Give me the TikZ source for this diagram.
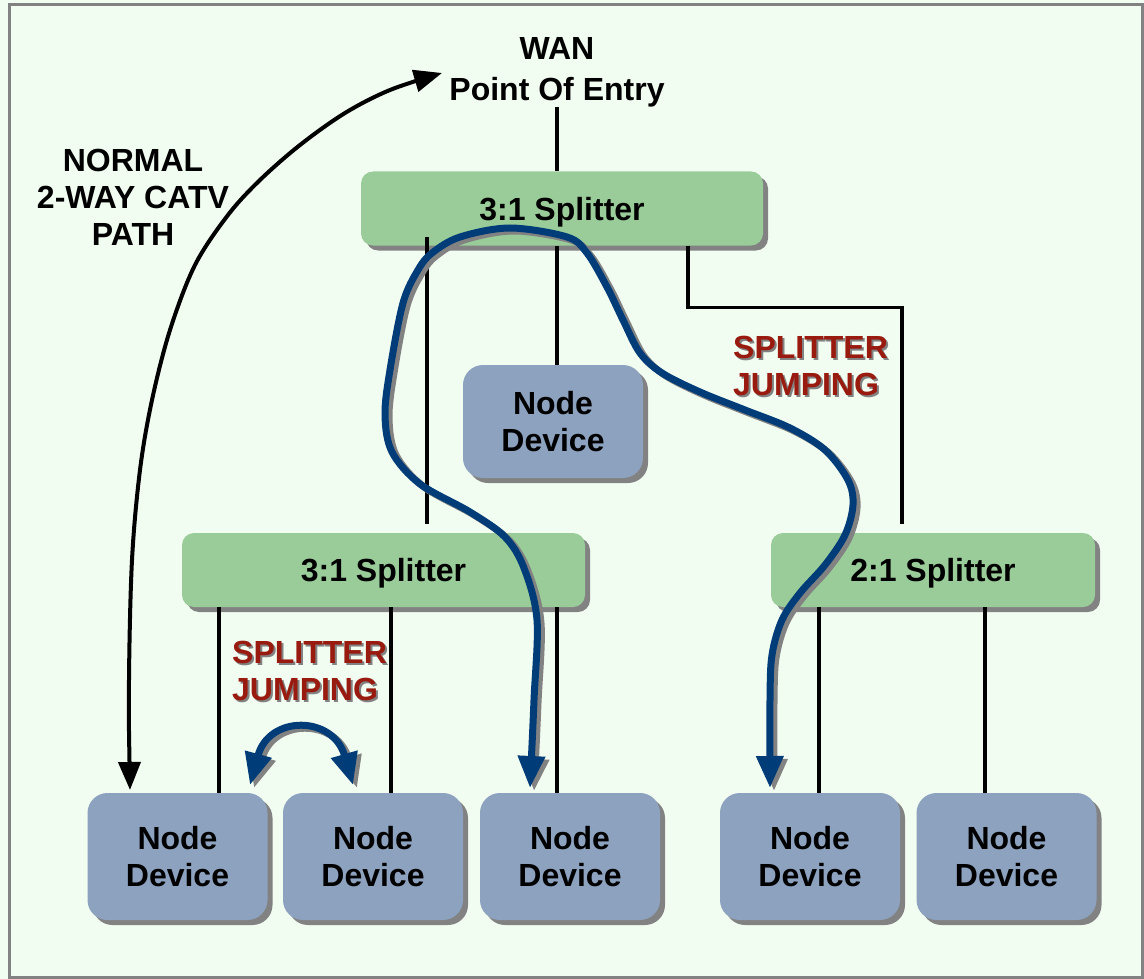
\documentclass[tikz,border=0pt]{standalone}
\usepackage{fontspec}
\setmainfont{Liberation Sans}
\usetikzlibrary{arrows.meta,shadows}
\definecolor{bgmint}{HTML}{F2FDF2}
\definecolor{splitgreen}{HTML}{99CC99}
\definecolor{devblue}{HTML}{8CA2BE}
\definecolor{pathblue}{HTML}{003C78}
\definecolor{jumpred}{HTML}{991A0E}
\definecolor{shadowgray}{HTML}{828282}
\begin{document}
\begin{tikzpicture}[x=1pt,y=-1pt,
  lbl/.style={font=\fontsize{32}{37}\selectfont\bfseries, align=center, inner sep=0pt},
  boxshadow/.style={drop shadow={shadow xshift=5pt,shadow yshift=-5pt,fill=shadowgray,opacity=1}},
  splitbox/.style={lbl, fill=splitgreen, rounded corners=12pt, boxshadow, minimum height=74pt, text depth=0pt},
  devbox/.style={lbl, fill=devblue, rounded corners=20pt, boxshadow, minimum width=180pt},
  wire/.style={line width=3.2pt, black},
  jumppath/.style={line width=7pt, pathblue, {Triangle[length=32pt,width=26pt]}-{Triangle[length=32pt,width=26pt]}},
  jumpshadow/.style={line width=7pt, shadowgray, {Triangle[length=32pt,width=26pt]}-{Triangle[length=32pt,width=26pt]}},
  normalpath/.style={line width=4pt, black, {Triangle[length=28pt,width=22pt]}-{Triangle[length=28pt,width=22pt]}},
  jumplbl/.style={font=\fontsize{32}{37}\selectfont\bfseries, align=left, inner sep=0pt, anchor=north west}
]
\useasboundingbox (0,0) rectangle (1144,979);
\fill[bgmint] (0,0) rectangle (1144,979);
\draw[shadowgray, line width=3pt] (9,5) rectangle (1142,977);

% nodes
\node[lbl, font=\fontsize{32}{41}\selectfont\bfseries] (wan) at (557,72) {WAN\\Point Of Entry};
\node[splitbox, minimum width=402pt] (ts) at (562,208.5) {3:1 Splitter};
\node[devbox, minimum height=113pt] (md) at (553,421.5) {Node\\Device};
\node[splitbox, minimum width=403pt] (ls) at (383.5,570) {3:1 Splitter};
\node[splitbox, minimum width=324pt] (rs) at (933,570) {2:1 Splitter};
\node[devbox, minimum height=127pt] (bd1) at (177.5,856.5) {Node\\Device};
\node[devbox, minimum height=127pt] (bd2) at (373,856.5) {Node\\Device};
\node[devbox, minimum height=127pt] (bd3) at (570,856.5) {Node\\Device};
\node[devbox, minimum height=127pt] (bd4) at (810,856.5) {Node\\Device};
\node[devbox, minimum height=127pt] (bd5) at (1006.5,856.5) {Node\\Device};

\node[lbl] (normal) at (133,197) {NORMAL\\2-WAY CATV\\PATH};

\node[jumplbl, text=shadowgray] at (735,338) {SPLITTER\\JUMPING};
\node[jumplbl, text=jumpred] (jr) at (733,336) {SPLITTER\\JUMPING};
\node[jumplbl, text=shadowgray] at (234,643) {SPLITTER\\JUMPING};
\node[jumplbl, text=jumpred] (jl) at (232,641) {SPLITTER\\JUMPING};

% wires
\draw[wire] (wan.south) -- (wan.south |- ts.north);
\draw[wire] ([xshift=43.5pt,yshift=9pt]ls.north) -- ([xshift=43.5pt,yshift=9pt]ls.north |- ts.south);
\draw[wire] ([xshift=4pt]md.north) -- ([xshift=4pt]md.north |- ts.south);
\draw[wire] ([xshift=126pt]ts.south) -- ++(0,62) -| ([xshift=-31pt,yshift=9pt]rs.north);
\draw[wire] ([xshift=41.5pt]bd1.north) -- ([xshift=41.5pt]bd1.north |- ls.south);
\draw[wire] ([xshift=18pt]bd2.north) -- ([xshift=18pt]bd2.north |- ls.south);
\draw[wire] ([xshift=-13pt]bd3.north) -- ([xshift=-13pt]bd3.north |- ls.south);
\draw[wire] ([xshift=9pt]bd4.north) -- ([xshift=9pt]bd4.north |- rs.south);
\draw[wire] ([xshift=-21.5pt]bd5.north) -- ([xshift=-21.5pt]bd5.north |- rs.south);

% splitter jumping long path
\foreach \sx/\sy/\st in {4/3/jumpshadow, 0/0/jumppath} {
\draw[\st, shift={(\sx,\sy)}] plot[smooth, tension=0.55] coordinates {
 (530,788) (534,700) (537,620) (524,568) (505,537) (470,512) (420,484)
 (392,452) (385,415) (390,370) (403,303) (418,270) (432,253) (460,237)
 (510,228) (567,237) (587,253) (607,287) (623,320) (640,353) (662,373)
 (700,392) (745,410) (790,428) (825,450) (848,480) (853,505) (845,535)
 (825,565) (800,593) (782,620) (772,655) (770,700) (770,788)};
}
% short jump
\draw[jumpshadow] (254,788) .. controls (273,718) and (337,718) .. (357,788);
\draw[jumppath] (250,785) .. controls (269,715) and (333,715) .. (353,785);

% normal 2-way path
\draw[normalpath] plot[smooth, tension=0.55] coordinates {
 (130,790) (129,680) (132,560) (140,470) (152,400) (170,330) (195,265)
 (228,215) (260,180) (300,145) (345,113) (390,90) (442,73)};
\end{tikzpicture}
\end{document}
